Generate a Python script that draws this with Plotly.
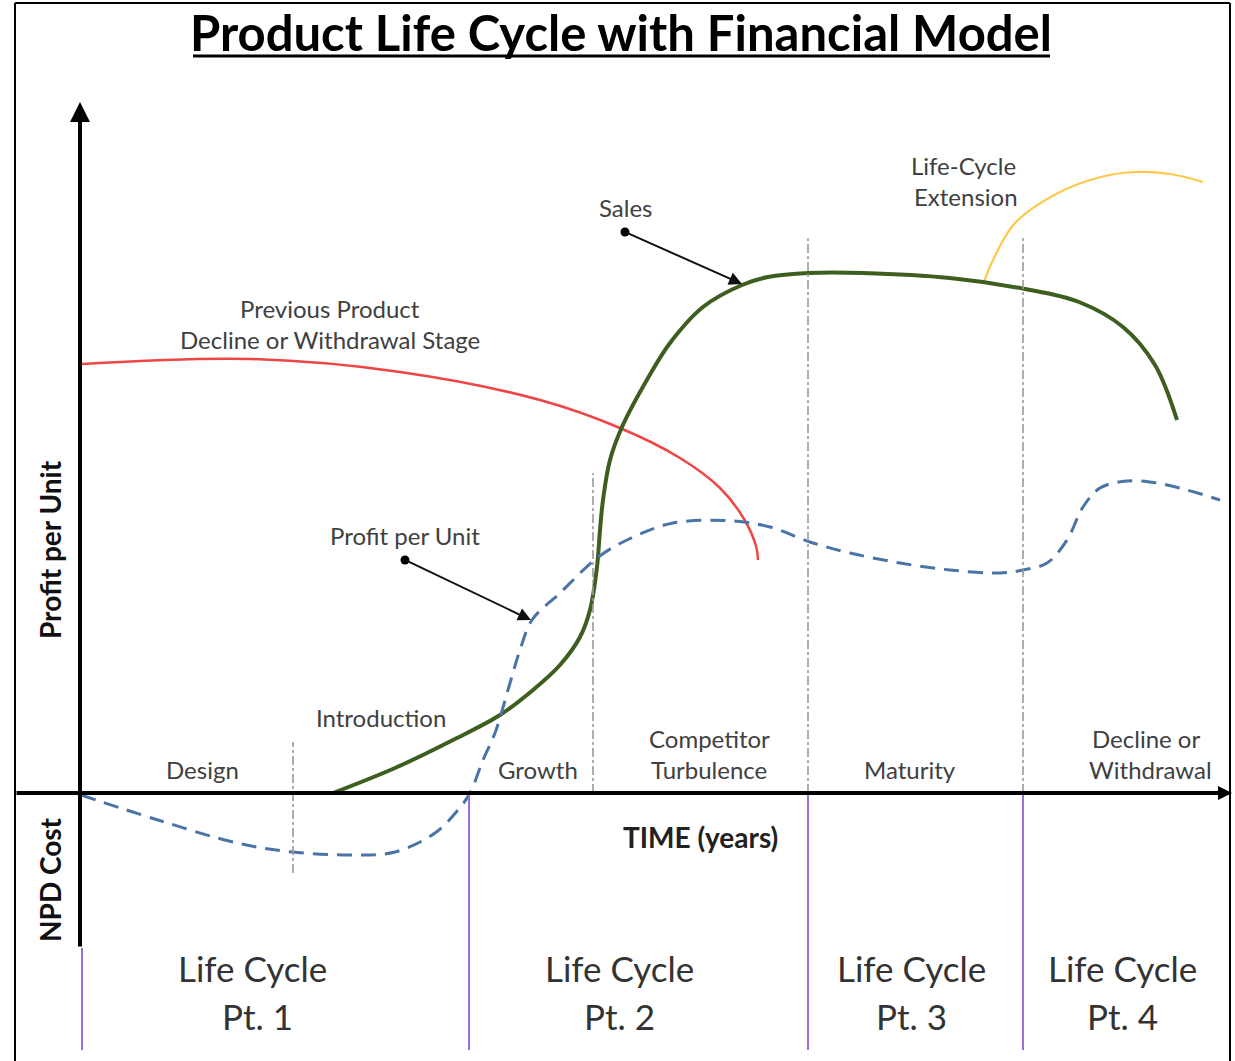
import plotly.graph_objects as go

# curve values (time on x, value on y; the horizontal axis sits at y=0)
prev_x = [2, 170, 320, 460, 540, 600, 640, 664, 676, 678]
prev_y = [429, 434, 421, 393, 365, 335, 305, 274, 247, 233]

sales_x = [253, 315, 373, 420, 453, 480, 500, 510, 517, 520, 523, 530, 542, 568, 590,
           623, 662, 688, 729, 783, 870, 945, 999, 1043, 1075, 1097]
sales_y = [0, 25, 53, 78, 103, 128, 156, 183, 226, 263, 293, 333, 366, 415, 450,
           486, 508, 516, 520, 520, 515, 504, 491, 466, 428, 373]

ext_x = [904, 913, 935, 978, 1021, 1056, 1090, 1123]
ext_y = [511, 533, 570, 600, 616, 621, 619, 611]

profit_x = [1, 78, 157, 212, 276, 315, 355, 378, 390, 403, 415, 430, 440, 452, 480, 517, 547,
            593, 653, 690, 730, 770, 820, 870, 920, 943, 967, 987, 1003, 1020, 1047,
            1077, 1107, 1140]
profit_y = [-2, -27, -50, -59, -62, -59, -40, -17, 0, 33, 60, 110, 143, 173, 200, 235, 253,
            270, 272, 266, 251, 240, 230, 223, 220, 223, 230, 253, 286, 305, 312,
            310, 303, 293]

# stage boundaries (dash-dot) and life cycle boundaries (purple)
stage_x = [213, 513, 728, 943]
stage_top = [51, 320, 558, 558]
stage_bottom = [-80, 0, 0, 0]
cycle_x = [2, 389, 728, 943]
cycle_top = [-155, 0, 0, 0]
cycle_bottom = -257

cycle_labels = ["Pt. 1", "Pt. 2", "Pt. 3", "Pt. 4"]

GRAY_TXT = "#404040"
FONT = "Lato"

fig = go.Figure()

fig.add_trace(go.Scatter(x=prev_x, y=prev_y, mode="lines", line_shape="spline",
                         line=dict(color="#ee4545", width=2.5)))
fig.add_trace(go.Scatter(x=ext_x, y=ext_y, mode="lines", line_shape="spline",
                         line=dict(color="#fdc84a", width=2.2)))
fig.add_trace(go.Scatter(x=sales_x, y=sales_y, mode="lines", line_shape="spline",
                         line=dict(color="#3d5e1f", width=4)))
fig.add_trace(go.Scatter(x=profit_x, y=profit_y, mode="lines", line_shape="spline",
                         line=dict(color="#4a74a6", width=3, dash="15px,9px")))

for sx, t, b in zip(stage_x, stage_top, stage_bottom):
    fig.add_trace(go.Scatter(x=[sx, sx], y=[b, t], mode="lines",
                             line=dict(color="#9a9a9a", width=1.6, dash="dashdot")))
for cx, t in zip(cycle_x, cycle_top):
    fig.add_trace(go.Scatter(x=[cx, cx], y=[t, cycle_bottom], mode="lines",
                             line=dict(color="#9b6fd8", width=2)))

# pointer dots
fig.add_trace(go.Scatter(x=[545, 325], y=[561, 233], mode="markers",
                         marker=dict(color="black", size=9)))

annos = []
# axes with arrow heads
annos.append(dict(x=0, y=691, ax=0, ay=-155, axref="x", ayref="y", xref="x", yref="y",
                  text="", showarrow=True, arrowhead=2, arrowsize=1, arrowwidth=4, arrowcolor="black"))
annos.append(dict(x=1152, y=0, ax=-65, ay=0, axref="x", ayref="y", xref="x", yref="y",
                  text="", showarrow=True, arrowhead=2, arrowsize=0.7, arrowwidth=4, arrowcolor="black"))
# pointers
annos.append(dict(x=662, y=509, ax=545, ay=561, axref="x", ayref="y", xref="x", yref="y",
                  text="", showarrow=True, arrowhead=2, arrowsize=1.3, arrowwidth=2, arrowcolor="#111"))
annos.append(dict(x=451, y=173, ax=325, ay=233, axref="x", ayref="y", xref="x", yref="y",
                  text="", showarrow=True, arrowhead=2, arrowsize=1.3, arrowwidth=2, arrowcolor="#111"))


def label(text, x, y, size=24, bold=False, color=GRAY_TXT, angle=0):
    if bold:
        text = "<b>" + text + "</b>"
    annos.append(dict(x=x, y=y, xref="x", yref="y", text=text, showarrow=False,
                      textangle=angle, font=dict(family=FONT, size=size, color=color)))


label("Previous Product", 250, 485)
label("Decline or Withdrawal Stage", 250, 454)
label("Sales", 546, 586)
label("Life-Cycle", 883, 628)
label("Extension", 886, 597)
label("Profit per Unit", 325, 258)

label("Design", 122, 24)
label("Introduction", 301, 76)
label("Growth", 458, 24)
label("Competitor", 629, 55)
label("Turbulence", 629, 24)
label("Maturity", 830, 24)
label("Decline or", 1066, 55)
label("Withdrawal", 1070, 24)

label("TIME (years)", 620, -44, size=28, bold=True, color="#222")
label("Profit per Unit", -30, 243, size=28, bold=True, color="#111", angle=-90)
label("NPD Cost", -30, -87, size=28, bold=True, color="#111", angle=-90)

cycle_cx = [172, 539, 831, 1042]
for i, cx in enumerate(cycle_cx):
    label("Life Cycle", cx, -175, size=35, color="#333")
    label(cycle_labels[i], cx + (5 if i == 0 else 0), -223, size=35, color="#333")

annos.append(dict(x=621 / 1235, y=1 - 32 / 1061, xref="paper", yref="paper", showarrow=False,
                  yanchor="middle", xanchor="center",
                  text="<b>Product Life Cycle with Financial Model</b>",
                  font=dict(family=FONT, size=49, color="black")))

shapes = [
    # title underline
    dict(type="line", xref="paper", yref="paper", x0=193 / 1235, x1=1050 / 1235,
         y0=1 - 56 / 1061, y1=1 - 56 / 1061, line=dict(color="black", width=3)),
    # frame
    dict(type="line", xref="paper", yref="paper", x0=15 / 1235, x1=1230 / 1235,
         y0=1 - 3 / 1061, y1=1 - 3 / 1061, line=dict(color="black", width=2)),
    dict(type="line", xref="paper", yref="paper", x0=15 / 1235, x1=15 / 1235,
         y0=0, y1=1 - 3 / 1061, line=dict(color="black", width=2)),
    dict(type="line", xref="paper", yref="paper", x0=1230 / 1235, x1=1230 / 1235,
         y0=0, y1=1 - 3 / 1061, line=dict(color="black", width=2)),
]

fig.update_layout(
    width=1235, height=1061,
    margin=dict(l=0, r=0, t=0, b=0),
    plot_bgcolor="white", paper_bgcolor="white",
    showlegend=False,
    annotations=annos,
    shapes=shapes,
    xaxis=dict(range=[-80, 1155], visible=False, fixedrange=True),
    yaxis=dict(range=[-268, 793], visible=False, fixedrange=True),
)

fig.write_html("out.html", config={"displayModeBar": False},
               post_script="document.body.style.margin='0';")
